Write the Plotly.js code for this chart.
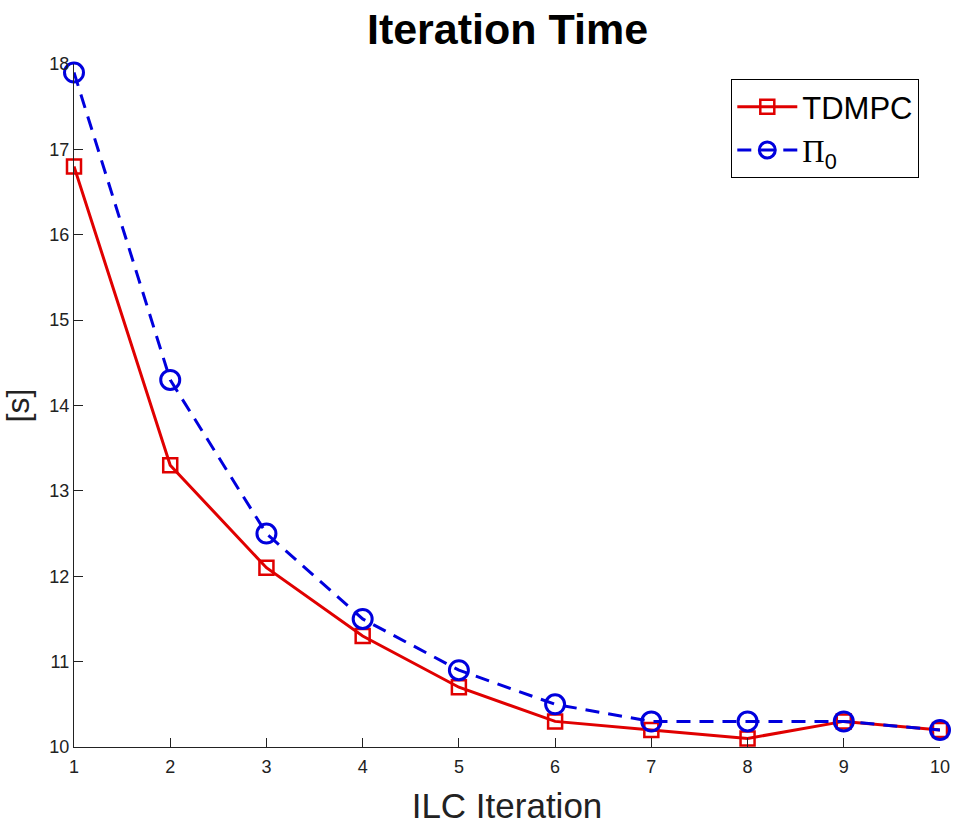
<!DOCTYPE html>
<html>
<head>
<meta charset="utf-8">
<script src="https://cdn.plot.ly/plotly-3.0.1.min.js"></script>
<style>
  html, body { margin: 0; padding: 0; background: #fff; }
  #chart { width: 954px; height: 839px; }
</style>
</head>
<body>
<div id="chart"></div>
<script>
// ILC iteration index and per-iteration time in seconds
const iterations = [1, 2, 3, 4, 5, 6, 7, 8, 9, 10];
const tdmpcTime = [16.8, 13.3, 12.1, 11.3, 10.7, 10.3, 10.2, 10.1, 10.3, 10.2];
const pi0Time = [17.9, 14.3, 12.5, 11.5, 10.9, 10.5, 10.3, 10.3, 10.3, 10.2];
const xTicks = [1, 2, 3, 4, 5, 6, 7, 8, 9, 10];
const yTicks = [10, 11, 12, 13, 14, 15, 16, 17, 18];

const font = 'Liberation Sans, Arial, Helvetica, sans-serif';

const traces = [
  {
    x: iterations, y: tdmpcTime, name: 'TDMPC',
    type: 'scatter', mode: 'lines+markers',
    line: { color: '#e00000', width: 3 },
    marker: { symbol: 'square-open', size: 14, color: '#e00000', line: { width: 2.5, color: '#e00000' } },
    cliponaxis: false
  },
  {
    x: iterations, y: pi0Time,
    name: '<span style="font-family:Liberation Serif, Times New Roman, serif">Π</span><sub>0</sub>',
    type: 'scatter', mode: 'lines+markers',
    line: { color: '#0000dd', width: 3, dash: '14px,9px' },
    marker: { symbol: 'circle-open', size: 19, color: '#0000dd', line: { width: 3, color: '#0000dd' } },
    cliponaxis: false
  }
];

const layout = {
  width: 954, height: 839,
  margin: { l: 74, r: 14, t: 64, b: 92 },
  paper_bgcolor: '#fff', plot_bgcolor: '#fff',
  font: { family: font, color: '#000' },
  title: {
    text: '<b>Iteration Time</b>',
    font: { family: font, size: 43, color: '#000' },
    x: 0.532, xanchor: 'center', y: 0.965, yanchor: 'middle'
  },
  xaxis: {
    range: [1, 10], tickvals: xTicks, ticktext: xTicks.map(String),
    showgrid: false, zeroline: false,
    showline: true, linecolor: '#222', linewidth: 1.2,
    ticks: 'inside', ticklen: 9, tickcolor: '#222', tickwidth: 1,
    ticklabelstandoff: 3,
    tickfont: { family: font, size: 18, color: '#222' },
    title: { text: 'ILC Iteration', font: { family: font, size: 35, color: '#222' }, standoff: 17 }
  },
  yaxis: {
    range: [10, 18], tickvals: yTicks, ticktext: yTicks.map(String),
    showgrid: false, zeroline: false,
    showline: true, linecolor: '#222', linewidth: 1.2,
    ticks: 'inside', ticklen: 9, tickcolor: '#222', tickwidth: 1,
    tickfont: { family: font, size: 18, color: '#222' },
    title: { text: '[s]', font: { family: font, size: 32, color: '#222' }, standoff: 14 }
  },
  showlegend: true,
  legend: {
    x: 0.759, y: 0.978, xanchor: 'left', yanchor: 'top',
    bordercolor: '#000', borderwidth: 1, bgcolor: '#fff',
    font: { family: font, size: 31, color: '#000' },
    tracegroupgap: 4, itemwidth: 60
  }
};

Plotly.newPlot('chart', traces, layout, { displayModeBar: false, staticPlot: true });
</script>
</body>
</html>
